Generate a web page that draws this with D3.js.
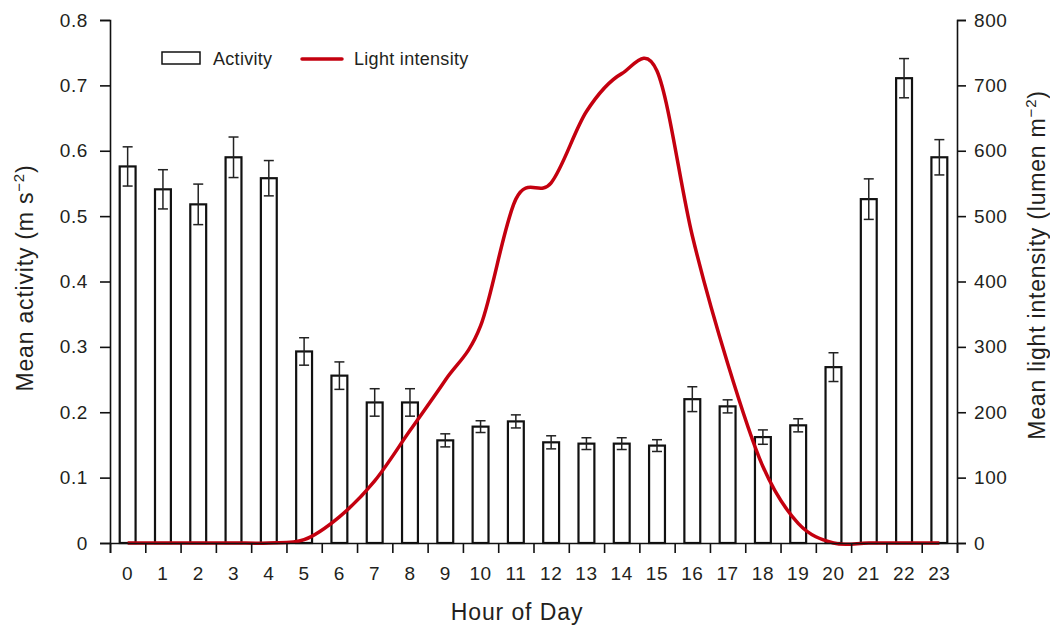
<!DOCTYPE html>
<html>
<head>
<meta charset="utf-8">
<script src="https://cdn.jsdelivr.net/npm/d3@7"></script>
<style>
    body { margin: 0; background: #fff; }
    text { font-family: "Liberation Sans", Arial, Helvetica, sans-serif; fill: #231f20; }
</style>
</head>
<body>
<div id="chart"></div>
<script>

const hours = [0, 1, 2, 3, 4, 5, 6, 7, 8, 9, 10, 11, 12, 13, 14, 15, 16, 17, 18, 19, 20, 21, 22, 23];

const activity = [0.576, 0.541, 0.518, 0.590, 0.558, 0.293, 0.256, 0.215, 0.215, 0.157, 0.178, 0.186,
    0.154, 0.152, 0.152, 0.149, 0.220, 0.209, 0.162, 0.180, 0.269, 0.526, 0.711, 0.590];

const activityErr = [0.030, 0.030, 0.031, 0.031, 0.027, 0.021, 0.021, 0.021, 0.021, 0.010, 0.009, 0.010,
    0.010, 0.009, 0.009, 0.009, 0.019, 0.010, 0.011, 0.010, 0.022, 0.031, 0.030, 0.027];

const light = [0, 0, 0, 0, 0, 5, 40, 95, 172, 249, 332, 526, 551, 660, 718, 722, 470, 275, 117, 30, 0, 0, 0, 0];

const leftTicks = [0, 0.1, 0.2, 0.3, 0.4, 0.5, 0.6, 0.7, 0.8];
const rightTicks = [0, 100, 200, 300, 400, 500, 600, 700, 800];

const width = 1050;
const height = 627;

const plotLeft = 110;
const plotRight = 957;
const plotTop = 20;
const plotBottom = 543;

const svg = d3.select("#chart")
    .append("svg")
    .attr("width", width)
    .attr("height", height);

// scales
const x = d3.scaleBand()
    .domain(hours)
    .range([plotLeft, plotRight]);

const xEdge = d3.scaleLinear()
    .domain([0, 24])
    .range([plotLeft, plotRight]);

const yLeft = d3.scaleLinear()
    .domain([0, 0.8])
    .range([plotBottom, plotTop]);

const yRight = d3.scaleLinear()
    .domain([0, 800])
    .range([plotBottom, plotTop]);

const barWidth = x.bandwidth() * 0.45;

function cx(h) {
    return x(h) + x.bandwidth() / 2;
}

// bars
svg.append("g")
    .selectAll("rect")
    .data(hours)
    .enter()
    .append("rect")
    .attr("x", function(d) { return cx(d) - barWidth / 2; })
    .attr("y", function(d) { return yLeft(activity[d]); })
    .attr("width", barWidth)
    .attr("height", function(d) { return plotBottom - yLeft(activity[d]); })
    .attr("fill", "#fff")
    .attr("stroke", "#111")
    .attr("stroke-width", 2.2);

// error bars
const err = svg.append("g")
    .attr("stroke", "#222")
    .attr("stroke-width", 1.5);

hours.forEach(function(h) {
    const hi = yLeft(activity[h] + activityErr[h]);
    const lo = yLeft(activity[h] - activityErr[h]);

    err.append("line")
        .attr("x1", cx(h)).attr("x2", cx(h))
        .attr("y1", hi).attr("y2", lo);

    err.append("line")
        .attr("x1", cx(h) - 5).attr("x2", cx(h) + 5)
        .attr("y1", hi).attr("y2", hi);

    err.append("line")
        .attr("x1", cx(h) - 5).attr("x2", cx(h) + 5)
        .attr("y1", lo).attr("y2", lo);
});

// light curve
const line = d3.line()
    .x(function(d) { return cx(d); })
    .y(function(d) { return yRight(light[d]); })
    .curve(d3.curveCardinal.tension(0));

svg.append("path")
    .datum(hours)
    .attr("d", line)
    .attr("fill", "none")
    .attr("stroke", "#c4000f")
    .attr("stroke-width", 3.5)
    .attr("stroke-linejoin", "round");

// axes
const leftAxis = svg.append("g")
    .attr("transform", "translate(" + plotLeft + ",0)")
    .call(d3.axisLeft(yLeft)
        .tickValues(leftTicks)
        .tickSize(10)
        .tickPadding(12)
        .tickFormat(function(d) { return d === 0 ? "0" : d3.format(".1f")(d); }));

const rightAxis = svg.append("g")
    .attr("transform", "translate(" + plotRight + ",0)")
    .call(d3.axisRight(yRight)
        .tickValues(rightTicks)
        .tickSize(9)
        .tickPadding(8));

const bottomAxis = svg.append("g")
    .attr("transform", "translate(0," + plotBottom + ")")
    .call(d3.axisBottom(xEdge)
        .tickValues(d3.range(0, 25))
        .tickSize(10)
        .tickFormat(""));

const labelAxis = svg.append("g")
    .attr("transform", "translate(0," + plotBottom + ")")
    .call(d3.axisBottom(x)
        .tickSize(0)
        .tickPadding(24));

labelAxis.select(".domain").remove();

[leftAxis, rightAxis, bottomAxis].forEach(function(g) {
    g.selectAll("path, line")
        .attr("stroke", "#111")
        .attr("stroke-width", 1.6);
});

[leftAxis, rightAxis, labelAxis].forEach(function(g) {
    g.selectAll("text")
        .style("font-size", "19px")
        .style("letter-spacing", "0.6px")
        .attr("fill", "#231f20");
});

// axis titles
svg.append("text")
    .attr("transform", "translate(33,278) rotate(-90)")
    .attr("text-anchor", "middle")
    .style("font-size", "23px")
    .style("letter-spacing", "0.8px")
    .html("Mean activity (m s<tspan dy='-9' style='font-size:15px'>\u22122</tspan><tspan dy='9'>)</tspan>");

svg.append("text")
    .attr("transform", "translate(1045,265) rotate(-90)")
    .attr("text-anchor", "middle")
    .style("font-size", "23px")
    .style("letter-spacing", "0.8px")
    .html("Mean light intensity (lumen m<tspan dy='-9' style='font-size:15px'>\u22122</tspan><tspan dy='9'>)</tspan>");

svg.append("text")
    .attr("x", 517)
    .attr("y", 620)
    .attr("text-anchor", "middle")
    .style("font-size", "23px")
    .style("letter-spacing", "0.9px")
    .text("Hour of Day");

// legend
const legend = svg.append("g");

legend.append("rect")
    .attr("x", 162).attr("y", 52)
    .attr("width", 38).attr("height", 12)
    .attr("fill", "#fff")
    .attr("stroke", "#111")
    .attr("stroke-width", 1.5);

legend.append("text")
    .attr("x", 213).attr("y", 65)
    .style("font-size", "18px")
    .style("letter-spacing", "0.3px")
    .text("Activity");

legend.append("line")
    .attr("x1", 302).attr("x2", 342)
    .attr("y1", 59).attr("y2", 59)
    .attr("stroke", "#c4000f")
    .attr("stroke-width", 3.5)
    .attr("stroke-linecap", "round");

legend.append("text")
    .attr("x", 354).attr("y", 65)
    .style("font-size", "18px")
    .style("letter-spacing", "0.3px")
    .text("Light intensity");

</script>
</body>
</html>
